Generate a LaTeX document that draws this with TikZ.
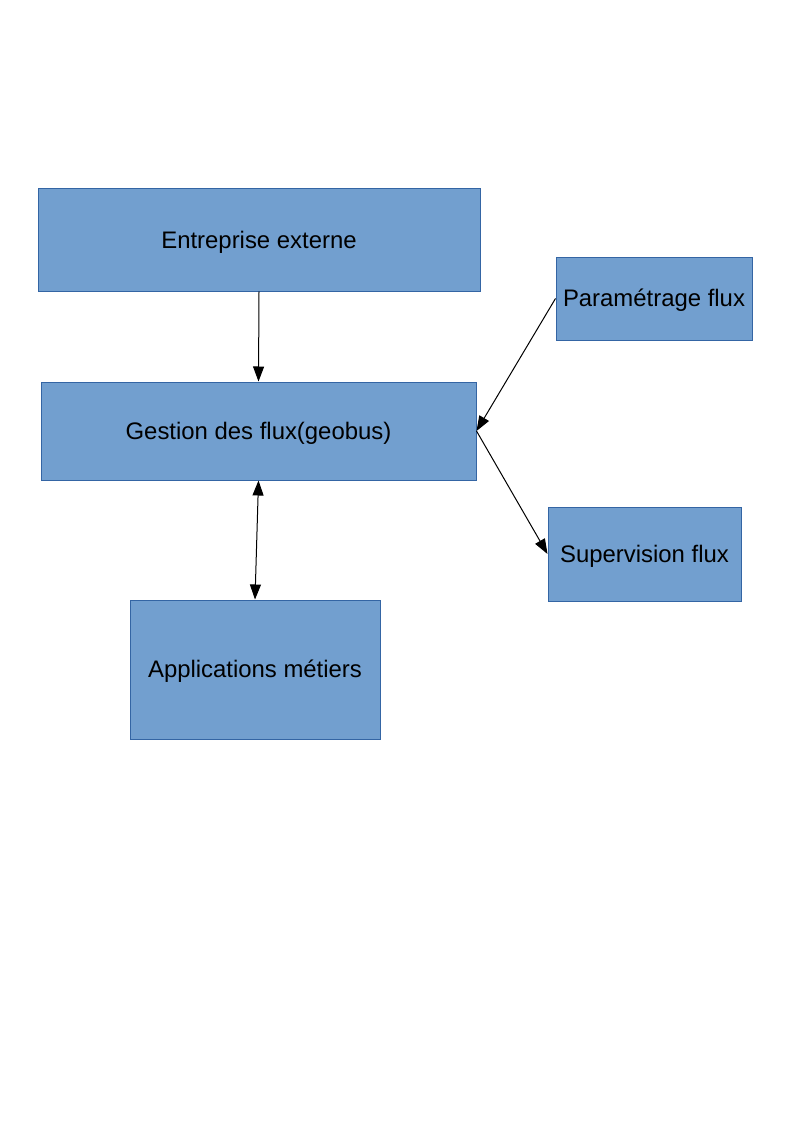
\documentclass[tikz,border=0pt]{standalone}
\usepackage{fontspec}
\setmainfont{Liberation Sans}
\usepackage{tikz}
\usepackage{xcolor}
\usetikzlibrary{arrows.meta,positioning,calc}
\definecolor{boxblue}{RGB}{114,159,207}
\definecolor{boxline}{RGB}{52,101,164}

\tikzset{
  bloc/.style={draw=boxline, fill=boxblue, line width=1pt, inner sep=0pt,
    text height=21.5pt, text depth=5pt,
    font=\fontsize{23.9}{28}\selectfont},
  fleche/.style={line width=1pt, -{Triangle[length=15pt,width=11pt]}},
  doublefleche/.style={line width=1pt, {Triangle[length=15pt,width=11pt]}-{Triangle[length=15pt,width=11pt]}}
}

\begin{document}
\begin{tikzpicture}[x=1pt, y=-1pt]
    \useasboundingbox (0,0) rectangle (794,1123);

    % Blocs
    \node[bloc, minimum width=442pt, minimum height=102pt] (externe) at (259,240) {Entreprise externe};
    \node[bloc, minimum width=435pt, minimum height=98pt] (geobus) at (258.5,431) {Gestion des flux(geobus)};
    \node[bloc, minimum width=196pt, minimum height=83pt] (param) at (654,298.5) {Paramétrage flux};
    \node[bloc, minimum width=193pt, minimum height=94pt] (superv) at (644.5,554) {Supervision flux};
    \node[bloc, minimum width=250pt, minimum height=139pt] (applis) at (255,669.5) {Applications métiers};

    % Fleches
    \draw[fleche] (externe.south) -- (geobus.north);
    \draw[fleche] (param.west) -- (geobus.east);
    \draw[fleche] (geobus.east) -- (superv.west);
    \draw[doublefleche] (geobus.south) -- (applis.north);
\end{tikzpicture}
\end{document}
